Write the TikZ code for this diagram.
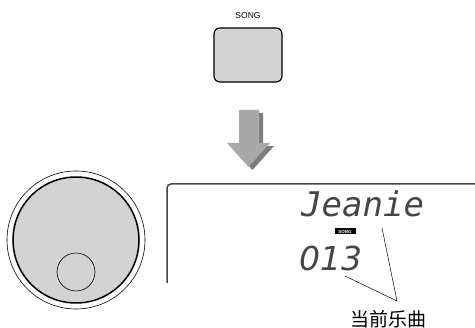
\documentclass[tikz,border=0pt]{standalone}
\usepackage{fontspec}
\usepackage{tikz}
\usetikzlibrary{positioning}
\setmainfont{Liberation Sans}
\newfontfamily\cjk{Noto Sans CJK SC}
\newfontfamily\lcdfont{DejaVu Sans Mono}
\newfontfamily\segfont{DejaVu Sans}
\definecolor{keygray}{RGB}{211,211,211}
\definecolor{arrowgray}{RGB}{168,168,168}
\definecolor{shadowgray}{RGB}{125,125,125}
\definecolor{lcdgray}{RGB}{70,70,70}

\begin{document}
\begin{tikzpicture}[
  x=1pt, y=-1pt,
  keybox/.style={draw, line width=1.2pt, rounded corners=6pt, fill=keygray,
                 minimum width=68pt, minimum height=54pt, inner sep=0pt},
  lcdtext/.style={font=\lcdfont\itshape\fontsize{34}{34}\selectfont, text=lcdgray,
                  inner sep=0pt, anchor=base west},
  leader/.style={line width=0.5pt}
]
  \useasboundingbox (0,0) rectangle (475,328);
  % SONG button
  \node[keybox] (songkey) at (248,55) {};
  \node[font=\fontsize{8.5}{8.5}\selectfont, above=5pt of songkey] (songlbl) {SONG};
  % down arrow with shadow
  \fill[shadowgray] (243,113) -- (263,113) -- (263,146) -- (274,146) -- (252.5,170) -- (231,146) -- (243,146) -- cycle;
  \fill[arrowgray] (239,110) -- (259,110) -- (259,143) -- (270,143) -- (248.5,167) -- (227,143) -- (239,143) -- cycle;
  % dial
  \draw[line width=0.6pt] (76,240) circle (69);
  \draw[line width=1.5pt, fill=keygray] (76,240) circle (63);
  \draw[line width=0.6pt] (76,272) circle (19);
  % display frame
  \draw[line width=1.5pt, lcdgray, rounded corners=4pt] (167,283) -- (167,184) -- (476,184);
  \node[lcdtext] (lcdname) at (301,217) {Jeanie};
  \node[fill=black, text=white, font=\bfseries\fontsize{4.5}{4.5}\selectfont,
        minimum width=21pt, minimum height=6pt, inner sep=0pt] (songtag) at (345,231.5) {SONG};
  \node[lcdtext, font=\segfont\itshape\fontsize{33}{33}\selectfont] (lcdnum) at (299,271) {013};
  % leader lines
  \coordinate (numend) at (345,276);
  \coordinate (nameend) at (382,228);
  \coordinate (tip) at (397,301);
  \node[font=\cjk\fontsize{19}{19}\selectfont, inner sep=0pt] (curlbl) at (388,319) {当前乐曲};
  \draw[leader] (numend) -- (tip) -- (nameend);
\end{tikzpicture}
\end{document}
